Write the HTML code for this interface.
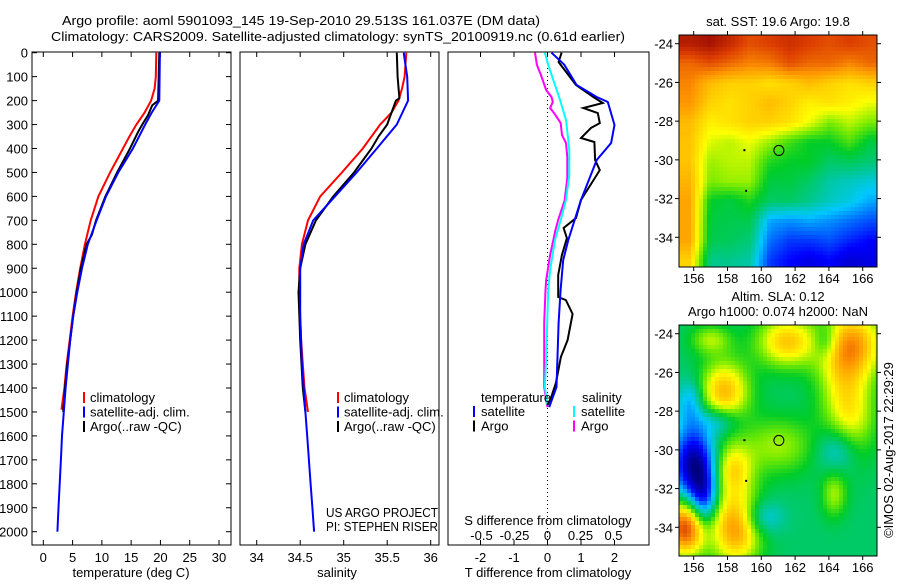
<!DOCTYPE html>
<html><head><meta charset="utf-8"><style>
body{margin:0;background:#fff}
svg text{font-family:"Liberation Sans",sans-serif;font-size:13px;fill:#000}
</style></head><body>
<svg id="s" width="900" height="580" xmlns="http://www.w3.org/2000/svg"></svg>
<script>
// ---------- data ----------
const depthTicks=[0,100,200,300,400,500,600,700,800,900,1000,1100,1200,1300,1400,1500,1600,1700,1800,1900,2000];
const tempTicks=[0,5,10,15,20,25,30];
const salTicks=[34,34.5,35,35.5,36];
const tdiffTicks=[-2,-1,0,1,2];
const sdiffTicks=[-0.5,-0.25,0,0.25,0.5];
const sdiffLabels=["-0.5","-0.25","0","0.25","0.5"];
const lonTicks=[156,158,160,162,164,166];
const latTicks=[-24,-26,-28,-30,-32,-34];

const tempClimDepth=[0,100,150,200,250,300,350,400,500,600,700,800,900,1000,1100,1200,1300,1400,1490];
const tempClim=[19.3,19.2,19.0,18.4,17.3,15.9,14.7,13.6,11.4,9.4,8.1,7.1,6.3,5.6,5.0,4.5,4.0,3.6,3.1];
const tempSatDepth=[0,200,250,300,400,500,600,700,800,900,1000,1100,1200,1300,1400,1500,1600,1700,1800,1900,2000];
const tempSat=[19.9,19.8,18.5,17.4,15.3,12.8,10.7,9.1,7.6,6.6,5.8,5.1,4.6,4.2,3.8,3.5,3.2,3.0,2.8,2.6,2.4];
const tempArgoDepth=[0,200,220,260,300,330,400,500,600,700,760,800,900,1000,1100,1200,1300,1400,1500];
const tempArgo=[19.8,19.6,18.6,17.9,16.9,16.2,14.8,12.6,10.6,9.0,8.3,7.4,6.4,5.7,5.1,4.6,4.1,3.7,3.4];

const salClimDepth=[0,100,150,200,250,300,400,500,600,700,800,900,1000,1200,1400,1500];
const salClim=[35.72,35.70,35.67,35.63,35.55,35.42,35.22,34.98,34.73,34.59,34.52,34.49,34.49,34.51,34.55,34.59];
const salSatDepth=[0,100,200,300,400,500,600,700,800,900,1000,1100,1200,1300,1400,1500,1600,1700,1800,1900,2000];
const salSat=[35.69,35.73,35.74,35.61,35.38,35.15,34.90,34.65,34.54,34.50,34.50,34.50,34.51,34.52,34.54,34.56,34.58,34.60,34.62,34.64,34.66];
const salArgoDepth=[0,100,190,200,250,300,350,400,500,600,700,800,900,1000,1200,1400,1500];
const salArgo=[35.61,35.62,35.64,35.60,35.55,35.50,35.40,35.32,35.12,34.88,34.68,34.56,34.50,34.48,34.50,34.53,34.56];

const tdSatDepth=[0,50,135,185,206,302,377,448,615,782,866,991,1128,1270,1396,1480];
const tdSat=[0.12,0.5,0.87,1.47,1.8,2.0,1.9,1.47,1.0,0.62,0.47,0.39,0.33,0.3,0.27,0.05];
const tdArgoDepth=[0,39,135,185,210,231,252,294,314,356,373,448,490,615,690,732,774,845,928,1020,1033,1091,1200,1270,1379,1442,1471];
const tdArgo=[0.42,0.33,0.85,1.37,1.65,1.07,1.5,1.56,1.3,1.0,1.4,1.42,1.56,1.0,0.85,0.48,0.58,0.43,0.32,0.32,0.55,0.75,0.6,0.4,0.25,0.1,0];
const sdSatDepth=[0,51,135,197,281,406,511,615,699,782,908,991,1270,1396,1471];
const sdSat=[-0.02,0.005,0.057,0.095,0.14,0.165,0.165,0.14,0.1,0.057,0.02,0.005,-0.01,-0.02,0];
const sdArgoDepth=[0,51,93,156,185,206,231,252,294,344,377,436,523,615,699,741,845,949,991,1128,1270,1396,1450,1480];
const sdArgo=[-0.095,-0.08,-0.05,-0.01,0.03,0.04,0.02,0.05,0.1,0.11,0.14,0.15,0.15,0.13,0.08,0.06,0.02,-0.01,-0.015,-0.025,-0.025,-0.025,-0.01,0];

// SST grid rows north->south, cols west->east (colormap fraction)
const sstGrid=[
[.95,.97,.93,.88,.90,.92,.90,.88,.90,.88],
[.85,.88,.85,.82,.83,.88,.85,.85,.82,.85],
[.82,.75,.72,.72,.70,.72,.75,.72,.70,.72],
[.80,.72,.70,.72,.75,.72,.68,.70,.68,.65],
[.75,.68,.70,.72,.72,.70,.65,.58,.62,.58],
[.74,.64,.62,.65,.60,.54,.50,.50,.55,.48],
[.74,.60,.62,.62,.52,.50,.50,.45,.46,.44],
[.76,.58,.60,.60,.48,.48,.45,.40,.38,.36],
[.78,.50,.48,.52,.45,.45,.42,.38,.35,.30],
[.78,.48,.47,.47,.30,.28,.30,.28,.25,.22],
[.78,.47,.46,.44,.25,.20,.20,.22,.18,.15],
[.72,.42,.42,.40,.20,.15,.12,.15,.10,.12]];
// SLA anomaly blobs
const slaLon=[161.5,165.5,157.8,165.3,164.6,161,158.3,158.5,155.5,156,156.6,155.8,157.5,164.5,160,163.8,164.3,157];
const slaLat=[-24.4,-24.5,-27,-28.3,-26,-29.8,-31,-34,-34,-30.8,-32.5,-27.5,-28.5,-30,-33.5,-24.4,-32.3,-24.3];
const slaRx=[1.2,1.2,1.0,1.0,1.0,1.5,0.8,1.0,0.8,0.8,0.5,0.5,0.8,0.8,0.8,0.5,0.5,0.8];
const slaRy=[0.9,1.2,1.1,1.5,1.5,1.0,0.9,1.3,1.0,1.3,1.0,0.8,0.5,0.8,0.6,0.6,0.8,0.5];
const slaAmp=[0.28,0.3,0.3,0.2,0.12,0.15,0.22,0.35,0.45,-0.42,-0.25,-0.15,-0.15,-0.15,-0.15,-0.12,0.15,0.15];

// ---------- helpers ----------
const S=document.getElementById('s');const NS='http://www.w3.org/2000/svg';
function mk(tag,at,parent){const e=document.createElementNS(NS,tag);for(const k in at)e.setAttribute(k,at[k]);(parent||S).appendChild(e);return e;}
function txt(x,y,t,anchor,parent,extra){const e=mk('text',Object.assign({x:x,y:y,'text-anchor':anchor||'start'},extra||{}),parent);e.textContent=t;return e;}
const yD=d=>52.7+d*0.2395;
const P1={l:32,r:231,x:v=>43.3+v*5.857};
const P2={l:240,r:439,x:v=>256.7+(v-34)*87};
const P3={l:448,r:649,xt:v=>547.5+v*33.5,xs:v=>547.5+v*132};
const TOP=52,BOT=545;
function line(xs,ds,fx,col,name,w){
  const g=mk('polyline',{points:xs.map((v,i)=>fx(v).toFixed(1)+','+yD(ds[i]).toFixed(1)).join(' '),fill:'none',stroke:col,'stroke-width':w||2});
  
  
}
function frame(l,r,name){const f=mk('rect',{x:l,y:TOP,width:r-l,height:BOT-TOP,fill:'none',stroke:'#000','stroke-width':1});
  }

// titles
txt(62,25,'Argo profile: aoml 5901093_145 19-Sep-2010 29.513S 161.037E (DM data)','start',null,{'font-size':'14',textLength:'478',lengthAdjust:'spacingAndGlyphs',});
txt(51,41,'Climatology: CARS2009. Satellite-adjusted climatology: synTS_20100919.nc (0.61d earlier)','start',null,{'font-size':'14',textLength:'574',lengthAdjust:'spacingAndGlyphs',});

// panel 1
frame(P1.l,P1.r,'temperature-panel');
depthTicks.forEach(d=>{const y=yD(d);mk('line',{x1:P1.l,x2:P1.l+5,y1:y,y2:y,stroke:'#000'});mk('line',{x1:P1.r-5,x2:P1.r,y1:y,y2:y,stroke:'#000'});
  const t=txt(28,y+5,String(d),'end');});
tempTicks.forEach(v=>{const x=P1.x(v);mk('line',{x1:x,x2:x,y1:TOP,y2:TOP+5,stroke:'#000'});mk('line',{x1:x,x2:x,y1:BOT-5,y2:BOT,stroke:'#000'});
  const t=txt(x,562,String(v),'middle');});
txt(131,577,'temperature (deg C)','middle',null,{});
line(tempClim,tempClimDepth,P1.x,'#f00','temp-climatology-line');
line(tempArgo,tempArgoDepth,P1.x,'#000','temp-argo-line');
line(tempSat,tempSatDepth,P1.x,'#00f','temp-satellite-line');

// panel 2
frame(P2.l,P2.r,'salinity-panel');
salTicks.forEach(v=>{const x=P2.x(v);mk('line',{x1:x,x2:x,y1:TOP,y2:TOP+5,stroke:'#000'});mk('line',{x1:x,x2:x,y1:BOT-5,y2:BOT,stroke:'#000'});
  const t=txt(x,562,String(v),'middle');});
txt(337,577,'salinity','middle',null,{});
line(salClim,salClimDepth,P2.x,'#f00','sal-climatology-line');
line(salArgo,salArgoDepth,P2.x,'#000','sal-argo-line');
line(salSat,salSatDepth,P2.x,'#00f','sal-satellite-line');
txt(326,517,'US ARGO PROJECT','start',null,{textLength:'112',lengthAdjust:'spacingAndGlyphs',});
txt(326,531,'PI: STEPHEN RISER','start',null,{textLength:'112',lengthAdjust:'spacingAndGlyphs',});

// legends panels 1,2
[[83,'p1'],[337,'p2']].forEach(([lx,p])=>{
  [['#f00','climatology'],['#00f','satellite-adj. clim.'],['#000','Argo(..raw -QC)']].forEach(([c,t],i)=>{
    const y=398+i*14.5;mk('rect',{x:lx,y:y-6,width:2,height:11,fill:c});
    const e=txt(lx+7,y+4,t);});
});

// panel 3
frame(P3.l,P3.r,'difference-panel');
mk('line',{x1:547.5,x2:547.5,y1:TOP,y2:BOT,stroke:'#000','stroke-dasharray':'1,3'});
tdiffTicks.forEach(v=>{const x=P3.xt(v);mk('line',{x1:x,x2:x,y1:TOP,y2:TOP+5,stroke:'#000'});mk('line',{x1:x,x2:x,y1:BOT-5,y2:BOT,stroke:'#000'});
  const t=txt(x,562,String(v),'middle');});
sdiffTicks.forEach((v,i)=>{const t=txt(P3.xs(v),540,sdiffLabels[i],'middle');});
txt(548,525,'S difference from climatology','middle',null,{});
txt(548,577,'T difference from climatology','middle',null,{});
line(sdArgo,sdArgoDepth,P3.xs,'#f0f','sdiff-argo-line');
line(sdSat,sdSatDepth,P3.xs,'#0ff','sdiff-satellite-line');
line(tdArgo,tdArgoDepth,P3.xt,'#000','tdiff-argo-line');
line(tdSat,tdSatDepth,P3.xt,'#00f','tdiff-satellite-line');
txt(481,402,'temperature','start',null,{});
txt(582,402,'salinity','start',null,{});
[[473,'#00f','satellite',0],[473,'#000','Argo',1],[573,'#0ff','satellite',0],[573,'#f0f','Argo',1]].forEach(([lx,c,t,i])=>{
  const y=412+i*14.5;mk('rect',{x:lx,y:y-6,width:2,height:11,fill:c});
  const e=txt(lx+8,y+4,t);});

// ---------- maps ----------
const cstops=[[0,[0,0,127]],[0.15,[0,0,255]],[0.33,[0,200,255]],[0.42,[0,200,140]],[0.5,[0,205,40]],[0.58,[120,235,0]],[0.66,[255,255,0]],[0.8,[255,150,0]],[0.9,[220,60,0]],[1,[140,0,0]]];
function cmap(v){v=Math.max(0,Math.min(1,v));for(let i=1;i<cstops.length;i++){if(v<=cstops[i][0]){const a=cstops[i-1],b=cstops[i],t=(v-a[0])/(b[0]-a[0]);
  return 'rgb('+a[1].map((c,k)=>Math.round(c+(b[1][k]-c)*t)).join(',')+')';}}return 'rgb(140,0,0)';}
function mapFrame(top,bot,field,name){
  const L=679,R=877,lonX=lo=>693.7+(lo-156)*16.9,latY=la=>top+8.7+(-24-la)*19.36;
  const g=mk('g',{});
  const cs=4;
  for(let x=L;x<R;x+=cs)for(let y=top;y<bot;y+=cs){
    const lo=156+(x+cs/2-693.7)/16.9, la=-24-(y+cs/2-top-8.7)/19.36;
    mk('rect',{x:x,y:y,width:Math.min(cs,R-x)+0.3,height:Math.min(cs,bot-y)+0.3,fill:cmap(field(lo,la))},g);
  }
  mk('rect',{x:L,y:top,width:R-L,height:bot-top,fill:'none',stroke:'#000'});
  lonTicks.forEach(lo=>{const x=lonX(lo);mk('line',{x1:x,x2:x,y1:top-4,y2:top,stroke:'#000'});mk('line',{x1:x,x2:x,y1:bot,y2:bot+4,stroke:'#000'});
    const t=txt(x,bot+16,String(lo),'middle');});
  latTicks.forEach(la=>{const y=latY(la);mk('line',{x1:L-4,x2:L,y1:y,y2:y,stroke:'#000'});mk('line',{x1:R,x2:R+4,y1:y,y2:y,stroke:'#000'});
    const t=txt(673,y+5,String(la),'end');});
  const c=mk('circle',{cx:lonX(161.04),cy:latY(-29.513),r:5,fill:'none',stroke:'#000'});
  
  mk('rect',{x:lonX(159)-1,y:latY(-29.5)-1,width:2,height:2,fill:'#000'});
  mk('rect',{x:lonX(159.1)-1,y:latY(-31.6)-1,width:2,height:2,fill:'#000'});
}
function sstField(lo,la){
  const fx=(lo-155.2)/(167-155.2)*9.999, fy=(-23.5-la)/(35.7-23.5)*11.999;
  const cx=Math.max(0,Math.min(9,fx-0.5)),cy=Math.max(0,Math.min(11,fy-0.5));
  const x0=Math.floor(cx),y0=Math.floor(cy),x1=Math.min(9,x0+1),y1=Math.min(11,y0+1),tx=cx-x0,ty=cy-y0;
  return (sstGrid[y0][x0]*(1-tx)+sstGrid[y0][x1]*tx)*(1-ty)+(sstGrid[y1][x0]*(1-tx)+sstGrid[y1][x1]*tx)*ty;
}
const RS=1.5;
function slaField(lo,la){let v=0.45;for(let i=0;i<slaLon.length;i++){const dx=(lo-slaLon[i])/(slaRx[i]*RS),dy=(la-slaLat[i])/(slaRy[i]*RS);v+=slaAmp[i]*Math.exp(-(dx*dx+dy*dy));}return v;}
mapFrame(35,267,sstField,'sst-map');
mapFrame(325,556,slaField,'sla-map');
txt(778,26,'sat. SST: 19.6 Argo: 19.8','middle',null,{'font-size':'12',});
txt(778,301,'Altim. SLA: 0.12','middle',null,{'font-size':'12',});
txt(778,316,'Argo h1000: 0.074 h2000: NaN','middle',null,{'font-size':'12',});
txt(0,0,'©IMOS 02-Aug-2017 22:29:29','middle',null,{'font-size':'12',transform:'translate(893,450) rotate(-90)',});
</script>
</body></html>
